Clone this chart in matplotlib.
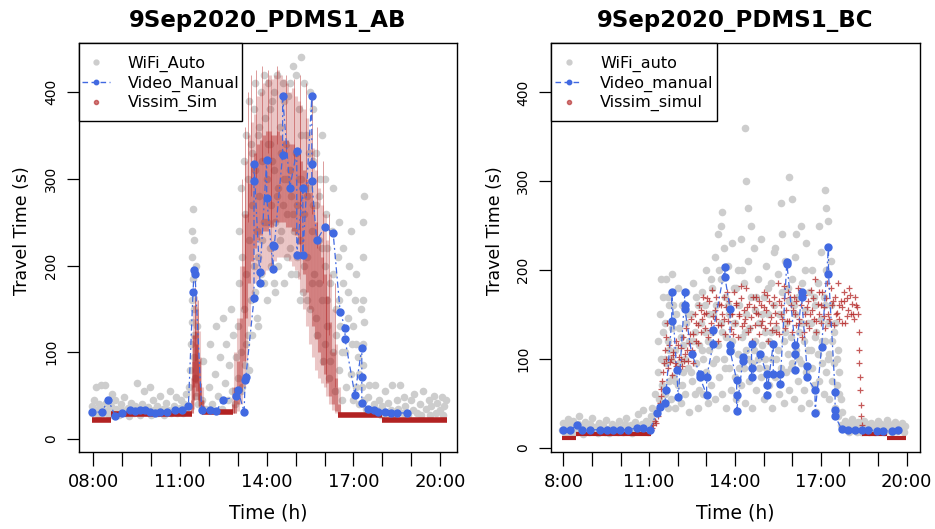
import matplotlib.pyplot as plt
from matplotlib.lines import Line2D
from matplotlib.patches import Rectangle

plt.rcParams['font.family'] = ['DejaVu Sans']

GRAY = '#CDCDCD'
BLUE = '#4169E1'
RED = '#B22222'

# ---------------- panel AB ----------------
# WiFi travel times (time in h, value in s)
wifi_ab = [
    (7.97, 30), (7.97, 38), (8.03, 45), (8.08, 60), (8.1, 33), (8.15, 28), (8.2, 40), (8.25, 62),
    (8.3, 35), (8.35, 30), (8.4, 62), (8.45, 42), (8.5, 33), (8.55, 28), (8.6, 38), (8.65, 52),
    (8.7, 30), (8.75, 45), (8.8, 35), (8.9, 28), (8.95, 40), (9.0, 33), (9.05, 48), (9.1, 30),
    (9.2, 36), (9.25, 27), (9.3, 42), (9.4, 30), (9.45, 38), (9.5, 65), (9.55, 33), (9.6, 28),
    (9.7, 40), (9.75, 55), (9.8, 32), (9.9, 37), (9.95, 60), (10.0, 28), (10.05, 45), (10.1, 33),
    (10.2, 38), (10.25, 30), (10.3, 50), (10.4, 35), (10.45, 28), (10.5, 42), (10.6, 33), (10.65, 55),
    (10.7, 30), (10.8, 38), (10.85, 48), (10.9, 30), (11.0, 36), (11.05, 45), (11.1, 30), (11.15, 40),
    (11.2, 52), (11.25, 35), (11.3, 60),
    (11.35, 80), (11.38, 110), (11.4, 135), (11.4, 160), (11.42, 210), (11.43, 240), (11.45, 265),
    (11.45, 185), (11.47, 150), (11.48, 120), (11.5, 95), (11.52, 70), (11.55, 50), (11.5, 230),
    (11.55, 200), (11.6, 130), (11.62, 40),
    (11.75, 45), (11.8, 90), (11.9, 35), (12.0, 60), (12.05, 110), (12.1, 40), (12.2, 75), (12.25, 130),
    (12.3, 50), (12.4, 95), (12.45, 35), (12.5, 140), (12.55, 65), (12.6, 110), (12.65, 45), (12.7, 85),
    (12.75, 150), (12.8, 55), (12.85, 120), (12.9, 40), (12.95, 95),
    (13.0, 70), (13.0, 130), (13.05, 180), (13.1, 55), (13.1, 100), (13.15, 210), (13.2, 150),
    (13.25, 260), (13.25, 85), (13.3, 190), (13.35, 300), (13.35, 120), (13.4, 230), (13.45, 340),
    (13.45, 160), (13.5, 270), (13.55, 380), (13.55, 200), (13.6, 310), (13.65, 240), (13.65, 140),
    (13.7, 350), (13.75, 280), (13.8, 400), (13.8, 190), (13.85, 320), (13.9, 250), (13.95, 370),
    (14.0, 300), (14.0, 160), (14.05, 410), (14.1, 220), (14.1, 340), (14.15, 270), (14.2, 390),
    (14.25, 180), (14.25, 310), (14.3, 250), (14.35, 420), (14.4, 290), (14.4, 200), (14.45, 360),
    (14.5, 240), (14.55, 410), (14.6, 300), (14.6, 180), (14.65, 340), (14.7, 260), (14.75, 395),
    (14.8, 220), (14.8, 310), (14.85, 280), (14.9, 430), (14.95, 240), (15.0, 330), (15.0, 190),
    (15.05, 270), (15.1, 380), (15.15, 230), (15.2, 300), (15.2, 440), (15.25, 170), (15.3, 260),
    (15.35, 350), (15.4, 210), (15.45, 290), (15.5, 400), (15.5, 150), (15.55, 240), (15.6, 320),
    (15.65, 190), (15.7, 270), (15.75, 120), (15.8, 230), (15.85, 300), (15.9, 160), (15.95, 90),
    (16.0, 200), (16.05, 260), (16.1, 130), (16.15, 70), (16.2, 180), (16.25, 240), (16.3, 100),
    (16.35, 55), (16.4, 150), (16.45, 210), (16.5, 80), (16.55, 130), (16.6, 45), (16.65, 180),
    (16.7, 100), (16.75, 60), (16.8, 140), (16.85, 200), (16.9, 75), (16.95, 110), (17.0, 45),
    (17.05, 160), (17.1, 60), (17.15, 95), (17.2, 40),
    (13.05, 240), (13.1, 290), (13.15, 60), (13.2, 320), (13.3, 110), (13.3, 350), (13.4, 80),
    (13.4, 390), (13.5, 120), (13.5, 330), (13.6, 170), (13.6, 410), (13.7, 210), (13.7, 130),
    (13.75, 360), (13.85, 230), (13.9, 180), (13.9, 420), (14.0, 250), (14.05, 340), (14.1, 380),
    (14.15, 200), (14.2, 320), (14.25, 400), (14.3, 170), (14.35, 280), (14.45, 230), (14.5, 330),
    (14.55, 270), (14.6, 390), (14.7, 210), (14.7, 300), (14.8, 410), (14.85, 190), (14.9, 260),
    (15.0, 420), (15.05, 210), (15.1, 300), (15.15, 160), (15.2, 350), (15.3, 200), (15.3, 410),
    (15.4, 160), (15.4, 280), (15.45, 330), (15.55, 180), (15.6, 270), (15.6, 380), (15.7, 140),
    (15.7, 330), (15.8, 180), (15.8, 280), (15.9, 220), (15.9, 350), (16.0, 110), (16.0, 300),
    (16.1, 160), (16.1, 220), (16.2, 90), (16.3, 190), (16.3, 290), (16.4, 120), (16.5, 160),
    (16.5, 250), (16.6, 100), (16.65, 220), (16.8, 170), (16.9, 240), (17.0, 130), (17.1, 190),
    (17.1, 110), (17.2, 75), (17.25, 150),
    (17.3, 60), (17.32, 110), (17.33, 160), (17.33, 210), (17.34, 250), (17.35, 280), (17.33, 85),
    (17.36, 135), (17.38, 45),
    (17.45, 35), (17.5, 48), (17.55, 62), (17.6, 30), (17.7, 40), (17.75, 62), (17.8, 33), (17.9, 45),
    (17.95, 28), (18.0, 38), (18.1, 55), (18.15, 30), (18.2, 42), (18.3, 33), (18.35, 62), (18.4, 28),
    (18.5, 45), (18.55, 35), (18.6, 62), (18.7, 30), (18.75, 48), (18.8, 38), (18.9, 28), (19.0, 45),
    (19.05, 33), (19.1, 52), (19.2, 30), (19.3, 40), (19.35, 28), (19.4, 55), (19.5, 35), (19.6, 45),
    (19.65, 28), (19.7, 38), (19.8, 50), (19.85, 30), (19.9, 42), (20.0, 33), (20.05, 48), (20.1, 28),
    (20.15, 38), (20.2, 45),
]

# Video (manual) travel times, in time order
video_ab = [
    (7.97, 31), (8.29, 31), (8.52, 45), (8.75, 27), (8.98, 30), (9.27, 33), (9.45, 32), (9.62, 33),
    (9.79, 33), (9.96, 31), (10.14, 30), (10.31, 31), (10.54, 31), (10.83, 33), (11.06, 33),
    (11.29, 38), (11.45, 170), (11.49, 195), (11.52, 190), (11.75, 33), (12.04, 33), (12.25, 32),
    (12.49, 45), (12.95, 49), (13.0, 57), (13.22, 31), (13.25, 68), (13.28, 72), (13.56, 162),
    (13.56, 297), (13.56, 317), (13.77, 180), (13.77, 193), (14.0, 322), (14.0, 278), (14.22, 196),
    (14.22, 224), (14.26, 222), (14.55, 328), (14.55, 395), (14.8, 290), (15.04, 332), (15.04, 212),
    (15.25, 290), (15.25, 212), (15.56, 395), (15.56, 317), (15.56, 297), (15.73, 229), (16.02, 245),
    (16.3, 237), (16.54, 147), (16.71, 128), (16.71, 115), (17.05, 51), (17.29, 105), (17.29, 72),
    (17.29, 42), (17.51, 34), (17.7, 33), (17.85, 31), (18.1, 31), (18.3, 30), (18.5, 30), (18.84, 30),
]

# Vissim simulated: flat periods (value, from, to)
vissim_ab_flat_v = [22, 29, 31, 28, 22]
vissim_ab_flat_t0 = [7.97, 8.6, 11.75, 16.45, 18.0]
vissim_ab_flat_t1 = [8.6, 11.4, 12.85, 18.0, 20.25]
# Vissim simulated: spread of values per time step (t, low, high, core low, core high)
vissim_ab_spread = [
    (11.4, 30, 70, 30, 45), (11.45, 35, 120, 45, 90), (11.5, 45, 155, 60, 120),
    (11.55, 50, 165, 65, 125), (11.6, 45, 150, 55, 110), (11.65, 38, 125, 45, 90),
    (11.7, 33, 95, 38, 65), (11.75, 30, 60, 30, 45), (11.8, 30, 45, 30, 38),
    (12.85, 30, 60, 30, 40), (12.9, 30, 100, 30, 60), (13.0, 32, 140, 40, 90),
    (13.1, 40, 200, 55, 140), (13.2, 60, 260, 90, 200), (13.3, 90, 320, 140, 260),
    (13.4, 130, 350, 180, 295), (13.5, 160, 365, 205, 315), (13.6, 180, 375, 220, 330),
    (13.7, 185, 395, 230, 340), (13.8, 190, 400, 235, 345), (13.9, 190, 410, 240, 350),
    (14.0, 195, 415, 240, 355), (14.1, 200, 420, 245, 355), (14.2, 200, 415, 245, 350),
    (14.3, 205, 420, 250, 350), (14.4, 210, 425, 250, 355), (14.5, 210, 420, 250, 350),
    (14.6, 210, 415, 250, 345), (14.7, 210, 410, 245, 345), (14.8, 205, 400, 245, 340),
    (14.9, 200, 405, 240, 340), (15.0, 195, 395, 235, 335), (15.1, 185, 390, 225, 330),
    (15.2, 170, 385, 210, 320), (15.3, 150, 380, 190, 310), (15.4, 130, 370, 170, 300),
    (15.5, 110, 355, 150, 285), (15.6, 95, 335, 130, 270), (15.7, 80, 310, 115, 250),
    (15.8, 70, 290, 100, 230), (15.9, 65, 270, 85, 210), (16.0, 60, 260, 75, 190),
    (16.1, 50, 230, 65, 165), (16.2, 40, 190, 50, 135), (16.3, 33, 150, 40, 100),
    (16.4, 30, 110, 32, 70), (16.5, 28, 60, 28, 40),
]
# thin streaks of single simulation runs (t, low, high)
vissim_ab_streaks = [
    (13.15, 150, 300), (13.25, 200, 360), (13.35, 250, 400), (13.45, 280, 420), (13.62, 300, 425),
    (13.85, 320, 430), (14.05, 330, 425), (14.35, 340, 430), (14.65, 330, 420), (14.95, 320, 415),
    (15.15, 300, 420), (15.35, 280, 410), (15.55, 260, 395), (15.75, 220, 360), (15.95, 180, 320),
    (16.15, 120, 260), (16.35, 60, 180), (11.52, 120, 175), (11.62, 110, 160),
]

# ---------------- panel BC ----------------
wifi_bc = [
    (7.97, 20), (8.0, 28), (8.05, 16), (8.1, 24), (8.15, 32), (8.2, 18), (8.25, 26), (8.3, 15),
    (8.35, 30), (8.4, 22), (8.45, 17), (8.5, 27), (8.55, 35), (8.6, 19), (8.65, 24), (8.7, 15),
    (8.75, 29), (8.8, 21), (8.9, 17), (8.95, 26), (9.0, 33), (9.05, 19), (9.1, 23), (9.2, 16),
    (9.25, 28), (9.3, 20), (9.4, 25), (9.45, 17), (9.5, 31), (9.55, 21), (9.6, 16), (9.7, 27),
    (9.75, 20), (9.8, 24), (9.9, 17), (9.95, 30), (10.0, 22), (10.1, 18), (10.15, 27), (10.2, 33),
    (10.3, 20), (10.35, 25), (10.4, 16), (10.5, 29), (10.55, 21), (10.6, 38), (10.7, 19), (10.75, 26),
    (10.8, 42), (10.85, 22), (10.9, 30), (10.95, 18), (11.0, 25), (11.05, 35),
    (11.1, 45), (11.15, 30), (11.2, 60), (11.25, 40), (11.3, 85), (11.3, 120), (11.35, 55),
    (11.38, 150), (11.4, 190), (11.42, 100), (11.45, 70), (11.48, 170), (11.5, 130),
    (11.55, 60), (11.55, 140), (11.6, 95), (11.6, 190), (11.65, 45), (11.65, 120), (11.7, 75),
    (11.7, 160), (11.75, 100), (11.75, 55), (11.8, 135), (11.8, 195), (11.85, 80), (11.9, 110),
    (11.9, 45), (11.95, 150), (12.0, 70), (12.0, 180), (12.05, 95), (12.1, 125), (12.1, 50),
    (12.15, 160), (12.2, 85), (12.2, 115), (12.25, 60), (12.3, 140), (12.3, 175), (12.35, 90),
    (12.4, 120), (12.4, 40), (12.45, 150), (12.5, 75), (12.5, 105), (12.55, 185), (12.6, 60),
    (12.6, 130), (12.65, 95), (12.7, 160), (12.7, 45), (12.75, 115), (12.8, 80), (12.8, 140),
    (12.85, 175), (12.9, 60), (12.9, 100), (12.95, 130), (13.0, 85), (13.0, 200), (13.05, 50),
    (13.1, 150), (13.1, 110), (13.15, 70), (13.2, 180), (13.2, 130), (13.25, 95), (13.3, 215),
    (13.3, 55), (13.35, 160), (13.4, 115), (13.4, 240), (13.45, 80), (13.5, 190), (13.5, 140),
    (13.5, 250), (13.55, 265), (13.55, 60), (13.6, 225), (13.6, 100), (13.65, 170), (13.7, 125),
    (13.7, 45), (13.75, 205), (13.8, 90), (13.8, 150), (13.85, 65), (13.9, 230), (13.9, 120),
    (13.95, 180), (14.0, 80), (14.0, 140), (14.05, 55), (14.1, 200), (14.1, 105), (14.15, 160),
    (14.2, 70), (14.2, 235), (14.25, 125), (14.3, 90), (14.3, 185), (14.35, 50), (14.35, 360),
    (14.4, 150), (14.4, 110), (14.4, 300), (14.45, 210), (14.45, 270), (14.5, 75), (14.5, 135),
    (14.55, 170), (14.6, 95), (14.6, 45), (14.65, 225), (14.7, 120), (14.7, 155), (14.75, 65),
    (14.8, 190), (14.8, 100), (14.85, 140), (14.9, 80), (14.9, 235), (14.95, 115), (15.0, 170),
    (15.0, 55), (15.05, 130), (15.1, 205), (15.1, 90), (15.15, 150), (15.2, 70), (15.2, 120),
    (15.25, 185), (15.3, 100), (15.3, 45), (15.35, 160), (15.4, 225), (15.4, 80), (15.45, 135),
    (15.5, 110), (15.5, 195), (15.55, 60), (15.6, 150), (15.6, 90), (15.6, 275), (15.65, 175),
    (15.7, 120), (15.7, 50), (15.75, 210), (15.8, 85), (15.8, 140), (15.85, 105), (15.9, 165),
    (15.9, 305), (15.9, 65), (15.95, 125), (16.0, 190), (16.0, 280), (16.0, 95), (16.05, 55),
    (16.1, 150), (16.1, 215), (16.15, 110), (16.2, 75), (16.2, 170), (16.25, 130), (16.3, 45),
    (16.3, 250), (16.3, 95), (16.35, 185), (16.4, 120), (16.4, 65), (16.45, 155), (16.5, 85),
    (16.5, 230), (16.55, 110), (16.6, 175), (16.6, 50), (16.65, 140), (16.7, 90), (16.7, 200),
    (16.75, 70), (16.8, 125), (16.8, 160), (16.85, 40), (16.9, 105), (16.9, 185), (16.95, 75),
    (17.0, 145), (17.0, 220), (17.05, 95), (17.1, 60), (17.1, 170), (17.15, 120), (17.15, 290),
    (17.2, 85), (17.2, 200), (17.2, 270), (17.25, 140), (17.25, 255), (17.3, 55), (17.3, 105),
    (17.35, 160), (17.4, 75), (17.4, 120), (17.45, 95), (17.5, 45), (17.5, 140), (17.55, 70),
    (17.6, 110), (17.6, 35), (17.65, 85), (17.7, 55), (17.7, 25), (17.75, 40),
    (11.55, 100), (11.65, 170), (11.7, 110), (11.85, 160), (11.9, 75), (12.05, 135), (12.15, 70),
    (12.25, 100), (12.35, 150), (12.45, 85), (12.55, 120), (12.65, 170), (12.75, 65), (12.85, 110),
    (12.95, 160), (13.05, 120), (13.15, 190), (13.25, 150), (13.35, 100), (13.45, 200), (13.55, 130),
    (13.65, 90), (13.75, 160), (13.85, 110), (13.95, 140), (14.05, 180), (14.15, 90), (14.25, 200),
    (14.35, 130), (14.45, 100), (14.55, 250), (14.65, 110), (14.75, 170), (14.85, 90), (14.95, 150),
    (15.05, 100), (15.15, 180), (15.25, 130), (15.35, 220), (15.45, 100), (15.55, 150), (15.65, 240),
    (15.75, 130), (15.85, 180), (15.95, 90), (16.05, 160), (16.15, 240), (16.25, 100), (16.35, 140),
    (16.45, 200), (16.55, 140), (16.65, 110), (16.75, 170), (16.85, 130), (16.95, 250), (17.05, 120),
    (17.15, 160), (17.25, 100), (17.35, 210), (17.45, 130), (17.55, 100), (17.65, 60),
    (17.8, 22), (17.85, 30), (17.9, 20), (17.95, 27), (18.0, 18), (18.05, 25), (18.1, 32), (18.15, 20),
    (18.2, 26), (18.25, 18), (18.3, 29), (18.35, 22), (18.4, 17), (18.45, 25), (18.5, 30), (18.55, 20),
    (18.6, 26), (18.7, 18), (18.75, 28), (18.8, 22), (18.9, 17), (18.95, 25), (19.0, 30), (19.05, 20),
    (19.1, 27), (19.2, 18), (19.25, 24), (19.3, 31), (19.35, 20), (19.4, 26), (19.5, 18), (19.55, 23),
    (19.6, 29), (19.65, 19), (19.7, 25), (19.8, 21), (19.85, 28), (19.9, 18), (19.95, 24),
]

video_bc = [
    (8.0, 20), (8.23, 20), (8.47, 25), (8.64, 20), (8.93, 20), (9.28, 20), (9.52, 20), (9.75, 20),
    (9.98, 20), (10.27, 20), (10.56, 22), (10.79, 22), (11.03, 20), (11.26, 39), (11.38, 46),
    (11.55, 50), (11.6, 65), (11.79, 143), (11.79, 175), (11.96, 87), (12.02, 57), (12.25, 175),
    (12.25, 160), (12.25, 156), (12.49, 105), (12.78, 83), (12.78, 79), (13.01, 59), (13.01, 79),
    (13.24, 117), (13.24, 132), (13.65, 203), (13.65, 192), (13.83, 156), (13.83, 115), (13.83, 109),
    (14.06, 76), (14.06, 59), (14.06, 41), (14.29, 102), (14.29, 98), (14.58, 117), (14.58, 90),
    (14.58, 79), (14.88, 105), (15.11, 83), (15.11, 70), (15.11, 59), (15.34, 117), (15.34, 83),
    (15.58, 83), (15.58, 72), (15.81, 207), (15.81, 209), (16.1, 115), (16.1, 105), (16.1, 87),
    (16.33, 175), (16.33, 169), (16.51, 92), (16.51, 79), (16.8, 65), (16.8, 39), (17.03, 113),
    (17.27, 226), (17.27, 196), (17.5, 63), (17.5, 42), (17.5, 35), (17.73, 21), (17.96, 20),
    (18.2, 20), (18.43, 20), (18.66, 20), (18.95, 19), (19.19, 19), (19.48, 19), (19.71, 20),
]

vissim_bc_flat_v = [11, 15, 15, 11]
vissim_bc_flat_t0 = [7.97, 8.45, 18.45, 19.3]
vissim_bc_flat_t1 = [8.45, 11.05, 19.3, 19.97]
vissim_bc = [
    (11.05, 20), (11.1, 22), (11.15, 25), (11.2, 30), (11.25, 28), (11.3, 36), (11.33, 45),
    (11.37, 50), (11.4, 58), (11.43, 66), (11.45, 75), (11.5, 85), (11.52, 95), (11.55, 110),
    (11.58, 125), (11.6, 100), (11.63, 140), (11.65, 90),
    (11.7, 115), (11.75, 100), (11.8, 82), (11.85, 108), (11.9, 95), (11.95, 120), (12.0, 88),
    (12.05, 102), (12.1, 112), (12.15, 92), (12.2, 125), (12.25, 105), (12.3, 135), (12.35, 98),
    (12.4, 118), (12.45, 145), (12.5, 110), (12.55, 128), (12.6, 150), (12.65, 120), (12.7, 138),
    (12.75, 160), (12.8, 130), (12.85, 145),
    (11.725, 96), (11.825, 104), (11.925, 92), (12.025, 115), (12.125, 100), (12.225, 98),
    (12.325, 110), (12.425, 128), (12.525, 95), (12.625, 140), (12.725, 118), (12.825, 155),
    (12.9, 170), (12.95, 135), (13.0, 152), (13.05, 125), (13.1, 165), (13.15, 140), (13.2, 178),
    (13.25, 130), (13.3, 155), (13.35, 145), (13.4, 120), (13.45, 162), (13.5, 138), (13.55, 150),
    (13.6, 170), (13.65, 128), (13.7, 158), (13.75, 142), (13.8, 165), (13.85, 133), (13.9, 150),
    (13.95, 175), (14.0, 140), (14.05, 160), (14.1, 125), (14.15, 148), (14.2, 168), (14.25, 137),
    (14.3, 155), (14.35, 145), (14.4, 180), (14.45, 130), (14.5, 162), (14.55, 147), (14.6, 120),
    (14.65, 158), (14.7, 138), (14.75, 170), (14.8, 150), (14.85, 128), (14.9, 160), (14.95, 143),
    (15.0, 175), (15.05, 135), (15.1, 155), (15.15, 120), (15.2, 165), (15.25, 147), (15.3, 132),
    (15.35, 170), (15.4, 152), (15.45, 140), (15.5, 185), (15.55, 128), (15.6, 160), (15.65, 145),
    (15.7, 168), (15.75, 135), (15.8, 155), (15.85, 175), (15.9, 142), (15.95, 160), (16.0, 130),
    (16.05, 170), (16.1, 150), (16.15, 138), (16.2, 180), (16.25, 145), (16.3, 160), (16.35, 125),
    (16.4, 172), (16.45, 150), (16.5, 140), (16.55, 165), (16.6, 135), (16.65, 178), (16.7, 155),
    (16.75, 145), (16.8, 190), (16.85, 130), (16.9, 162), (16.95, 150), (17.0, 140), (17.05, 175),
    (17.1, 158), (17.15, 135), (17.2, 168), (17.25, 150), (17.3, 145), (17.35, 180), (17.4, 160),
    (17.45, 138), (17.5, 170), (17.55, 152), (17.6, 185), (17.65, 145), (17.7, 165), (17.75, 158),
    (17.8, 175), (17.85, 140), (17.9, 168), (17.95, 155), (18.0, 180), (18.05, 150), (18.1, 162),
    (18.15, 145), (18.2, 170), (18.25, 158),
    (12.925, 150), (13.025, 168), (13.125, 132), (13.225, 148), (13.325, 170), (13.425, 138),
    (13.525, 160), (13.625, 145), (13.725, 175), (13.825, 150), (13.925, 128), (14.025, 163),
    (14.125, 150), (14.225, 182), (14.325, 140), (14.425, 158), (14.525, 135), (14.625, 170),
    (14.725, 152), (14.825, 165), (14.925, 138), (15.025, 158), (15.125, 172), (15.225, 140),
    (15.325, 160), (15.425, 130), (15.525, 165), (15.625, 150), (15.725, 182), (15.825, 142),
    (15.925, 170), (16.025, 155), (16.125, 165), (16.225, 140), (16.325, 175), (16.425, 130),
    (16.525, 158), (16.625, 150), (16.725, 168), (16.825, 142), (16.925, 175), (17.025, 160),
    (17.125, 148), (17.225, 185), (17.325, 140), (17.425, 165), (17.525, 150), (17.625, 160),
    (17.725, 140), (17.825, 165), (17.925, 148), (18.025, 172), (18.125, 150), (18.225, 160),
    (18.3, 150), (18.32, 130), (18.34, 110), (18.35, 95), (18.37, 80), (18.38, 65), (18.4, 48),
    (18.42, 35), (18.45, 25),
]

hours = list(range(8, 21))
labels_ab = ['08:00', '', '', '11:00', '', '', '14:00', '', '', '17:00', '', '', '20:00']
labels_bc = ['8:00', '', '', '11:00', '', '', '14:00', '', '', '17:00', '', '', '20:00']
y_ticks = [0, 100, 200, 300, 400]


def unzip(pts):
    return [p[0] for p in pts], [p[1] for p in pts]


def style_axes(ax, title, xlabels, xlim, ylim):
    ax.set_xlim(*xlim)
    ax.set_ylim(*ylim)
    ax.set_xticks(hours)
    ax.set_xticklabels(xlabels, fontsize=13)
    ax.set_yticks(y_ticks)
    ax.set_yticklabels([str(v) for v in y_ticks], fontsize=10, rotation=90, va='center')
    ax.tick_params(axis='x', direction='out', length=10, width=0.9, pad=5)
    ax.tick_params(axis='y', direction='out', length=8.5, width=0.9, pad=6.5)
    for s in ax.spines.values():
        s.set_linewidth(1.0)
        s.set_color('black')
    ax.set_title(title, fontsize=16.5, fontweight='bold', pad=11)
    ax.set_xlabel('Time (h)', fontsize=13.5)
    ax.xaxis.set_label_coords(0.5, -0.125)
    ax.set_ylabel('Travel Time (s)', fontsize=12.5)
    ax.yaxis.set_label_coords(-0.128, 0.54)


def add_legend(ax, names, box_w, x_anchor, handle_len, text_pad):
    box = Rectangle((0, 1 - 0.1906), box_w, 0.1906, transform=ax.transAxes,
                    facecolor='white', edgecolor='black', linewidth=1.0, zorder=5,
                    clip_on=False)
    ax.add_patch(box)
    handles = [
        Line2D([], [], ls='none', marker='o', ms=3.5, color=GRAY),
        Line2D([], [], color=BLUE, lw=1.0, ls=(0, (4, 2.5)), marker='o', ms=3.2),
        Line2D([], [], ls='none', marker='o', ms=3.0, color=RED, alpha=0.6),
    ]
    leg = ax.legend(handles, names, loc='upper left', bbox_to_anchor=(x_anchor, 0.968),
                    frameon=False, borderaxespad=0, borderpad=0, fontsize=11.5,
                    handlelength=handle_len, handletextpad=text_pad, labelspacing=0.22)
    leg.set_zorder(6)


fig = plt.figure(figsize=(9.35, 5.29), dpi=100)
ax1 = fig.add_axes([0.0845, 0.1456, 0.4043, 0.7737])
ax2 = fig.add_axes([0.5893, 0.1456, 0.3947, 0.7737])

# ---- AB ----
t, v = unzip(wifi_ab)
ax1.scatter(t, v, s=30, color=GRAY, linewidths=0, zorder=1)
ax1.hlines(vissim_ab_flat_v, vissim_ab_flat_t0, vissim_ab_flat_t1, colors=RED, linewidth=4, zorder=2)
st = [p[0] for p in vissim_ab_spread]
ax1.vlines(st, [p[1] for p in vissim_ab_spread], [p[2] for p in vissim_ab_spread],
           colors=RED, linewidth=2.2, alpha=0.25, zorder=2)
ax1.vlines(st, [p[3] for p in vissim_ab_spread], [p[4] for p in vissim_ab_spread],
           colors=RED, linewidth=2.2, alpha=0.42, zorder=2)
ax1.vlines([p[0] for p in vissim_ab_streaks], [p[1] for p in vissim_ab_streaks],
           [p[2] for p in vissim_ab_streaks], colors=RED, linewidth=0.7, alpha=0.45, zorder=2)
t, v = unzip(video_ab)
ax1.plot(t, v, color=BLUE, lw=0.9, ls=(0, (1.5, 2.5, 5, 2.5)), marker='o', ms=5, zorder=3)
style_axes(ax1, '9Sep2020_PDMS1_AB', labels_ab, (7.505, 20.585), (-15, 457))
add_legend(ax1, ['WiFi_Auto', 'Video_Manual', 'Vissim_Sim'], 0.431, 0.008, 1.75, 1.12)

# ---- BC ----
t, v = unzip(wifi_bc)
ax2.scatter(t, v, s=30, color=GRAY, linewidths=0, zorder=1)
ax2.hlines(vissim_bc_flat_v, vissim_bc_flat_t0, vissim_bc_flat_t1, colors=RED, linewidth=3, zorder=2)
t, v = unzip(vissim_bc)
ax2.plot(t, v, ls='none', marker='+', ms=4.5, mew=0.9, color=RED, alpha=0.75, zorder=2)
t, v = unzip(video_bc)
ax2.plot(t, v, color=BLUE, lw=0.9, ls=(0, (1.5, 2.5, 5, 2.5)), marker='o', ms=5, zorder=3)
style_axes(ax2, '9Sep2020_PDMS1_BC', labels_bc, (7.57, 20.47), (-5, 456))
add_legend(ax2, ['WiFi_auto', 'Video_manual', 'Vissim_simul'], 0.45, 0.011, 1.7, 1.12)

fig.savefig('out.png', dpi=100)
